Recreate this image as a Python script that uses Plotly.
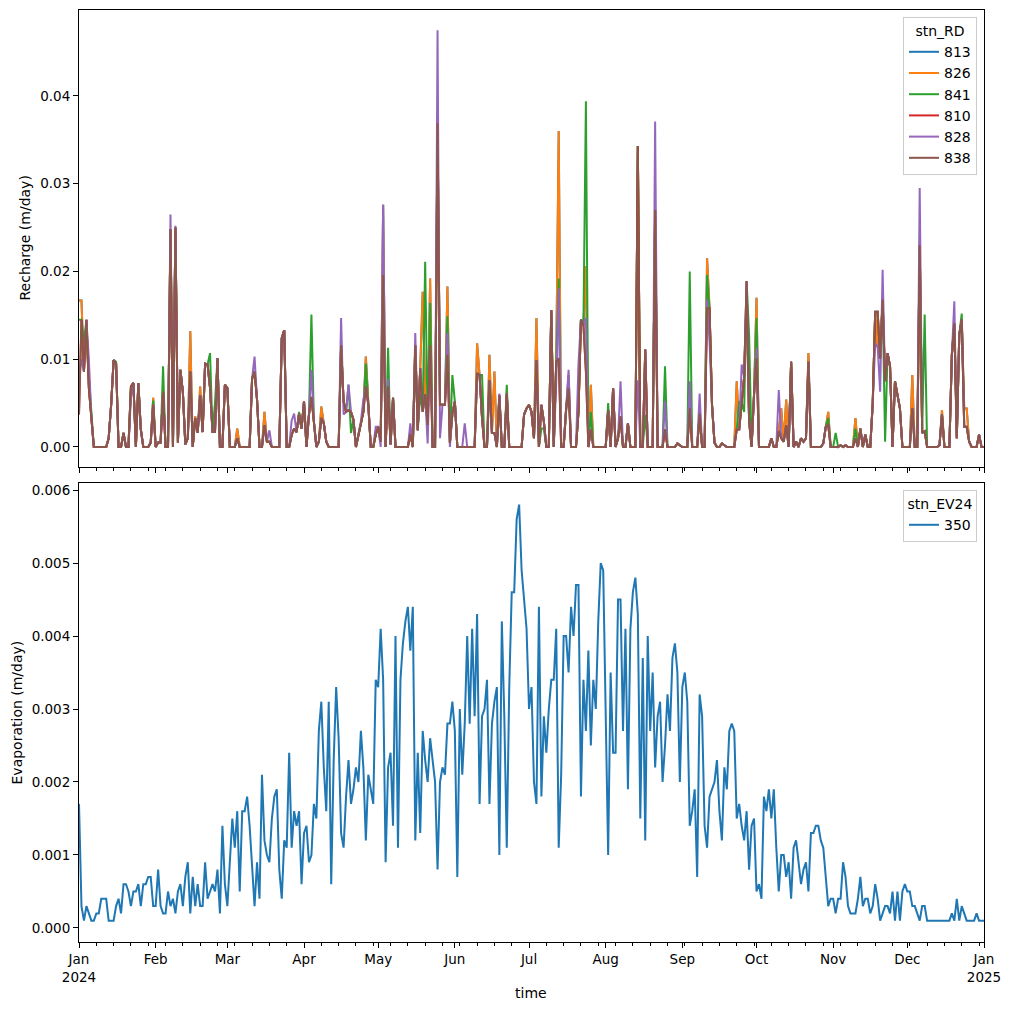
import pandas as pd
import plotly.graph_objects as go

# ---------------- data ----------------
dates = pd.date_range("2024-01-01", "2025-01-01", freq="D")  # 367 daily points

# Recharge for station 838 (mm/day)
recharge_838_mm = [
    3.7, 14.5, 8.6, 14.5, 6.7, 3.3, 0, 0, 0, 0,
    0, 0, 1.0, 4.8, 9.9, 9.5, 0, 0, 1.6, 0,
    0, 6.9, 7.3, 0, 7.3, 2.0, 0, 0, 0, 0.5,
    4.8, 0, 0.5, 0.5, 6.3, 0, 0, 24.8, 0, 25.0,
    0.5, 8.8, 6.3, 0.3, 1.0, 8.6, 0, 3.3, 1.6, 5.9,
    1.7, 9.5, 9.4, 6.7, 1.7, 1.7, 10.1, 0, 0, 7.1,
    6.7, 0, 0, 0, 1.0, 0, 0, 0, 0, 0,
    7.8, 8.6, 5.4, 0, 0, 2.5, 0.6, 0.6, 0, 0,
    0, 0, 12.4, 13.3, 0, 0, 1.4, 2.1, 1.7, 3.8,
    2.1, 5.2, 0, 3.7, 5.7, 2.9, 0, 0.6, 3.3, 2.7,
    0.6, 0, 0, 0, 0, 0, 11.6, 5.2, 4.0, 4.2,
    4.0, 3.1, 0, 1.4, 2.9, 4.0, 6.9, 4.8, 0, 0,
    1.4, 2.3, 0.6, 19.6, 0, 6.9, 0.3, 5.6, 0, 0,
    0, 0, 0, 0, 1.5, 0, 11.6, 1.9, 9.0, 4.0,
    6.0, 2.5, 11.6, 0, 0, 36.9, 4.8, 4.8, 4.8, 10.5,
    0.5, 3.8, 5.2, 0, 0, 0, 0, 0, 0, 0,
    0, 8.4, 8.2, 3.3, 0, 0, 7.6, 1.6, 1.6, 0,
    5.9, 0, 0, 6.1, 0, 0, 0, 0, 0, 0,
    3.7, 4.4, 4.8, 4.0, 1.0, 9.9, 0, 4.8, 2.9, 0,
    0, 15.6, 0, 9.7, 10.1, 0, 0, 4.4, 6.7, 0,
    0, 0, 4.0, 14.5, 13.9, 8.6, 0, 2.0, 0, 0,
    0, 0, 0, 0, 4.2, 0, 6.7, 0, 1.0, 3.5,
    0, 0, 2.7, 0, 0, 0, 34.3, 0, 0, 11.1,
    0, 0, 0, 27.0, 0, 0, 0, 2.0, 0, 0,
    0, 0, 0.4, 0.2, 0, 0, 0, 4.4, 0, 0,
    0, 3.8, 0, 0, 15.8, 15.8, 4.8, 0.5, 0, 0,
    0.4, 0.2, 0, 0, 0, 0, 2.0, 2.0, 5.0, 8.0,
    18.9, 3.0, 0, 6.0, 10.1, 0, 0, 0, 0, 0,
    1.0, 0, 0, 1.8, 1.0, 0.6, 2.5, 0, 9.7, 0,
    0.6, 0, 1.0, 0.6, 1.0, 9.7, 0, 0, 0, 0,
    0, 0.4, 2.3, 2.5, 0, 0, 0, 0, 0.2, 0,
    0.2, 0, 0, 0, 1.0, 0, 2.1, 0, 1.4, 0,
    0, 5.0, 15.4, 15.4, 10.1, 16.8, 7.5, 10.7, 9.2, 0,
    7.5, 6.1, 4.4, 0, 0, 0, 0, 4.4, 0, 0,
    23.0, 1.6, 1.8, 0, 0, 0, 0, 0, 0.2, 3.7,
    0, 0, 0, 10.5, 14.1, 1.0, 12.8, 14.5, 2.3, 2.3,
    0.6, 0, 0, 0, 1.4, 0, 0,
]

# Days (index from 2024-01-01) where the other stations differ from 838 (mm/day)
diff_826_mm = {0: 16.7, 1: 16.7, 3: 13.9, 21: 6.7, 22: 7.3, 30: 5.6, 45: 13.2, 47: 3.5,
               49: 6.9, 59: 7.1, 64: 2.1, 75: 4.0, 98: 4.6, 116: 10.3, 123: 27.6,
               139: 17.7, 142: 19.2, 149: 18.3, 161: 11.8, 166: 10.5, 168: 8.6,
               185: 14.7, 194: 36.0, 198: 8.2, 205: 20.6, 207: 7.1, 254: 21.5,
               266: 7.5, 270: 17.0, 274: 17.0, 284: 4.4, 286: 5.4, 295: 10.7,
               303: 4.0, 314: 3.3, 323: 11.4, 337: 8.2, 349: 4.2, 358: 4.4, 359: 4.4}
diff_841_mm = {0: 14.5, 1: 14.5, 2: 12.0, 4: 8.0, 14: 9.9, 15: 9.7, 30: 5.3, 34: 9.2,
               53: 10.7, 55: 5.0, 89: 4.0, 94: 15.1, 109: 7.1, 110: 1.6, 116: 9.5,
               125: 11.3, 138: 6.0, 140: 21.1, 142: 16.4, 149: 14.9, 151: 8.2,
               163: 8.2, 173: 7.1, 187: 2.1, 188: 2.1, 194: 19.2, 205: 39.4, 207: 4.0,
               214: 5.0, 229: 3.7, 237: 9.2, 247: 20.0, 254: 19.6, 255: 15.5,
               267: 5.2, 269: 4.0, 271: 12.8, 274: 14.7, 303: 3.3, 306: 1.6,
               314: 2.1, 326: 0.6, 342: 15.1, 357: 15.2}
diff_828_mm = {0: 8.0, 1: 10.0, 4: 9.9, 21: 5.6, 37: 26.5, 39: 25.2, 71: 10.3, 77: 1.9,
               86: 3.0, 87: 3.8, 94: 8.8, 106: 14.7, 107: 3.7, 109: 7.1, 115: 5.4,
               120: 2.3, 122: 0.0, 123: 27.6, 125: 7.8, 134: 2.7, 136: 13.0, 141: 0.4,
               145: 47.5, 146: 1.0, 149: 13.0, 150: 0.0, 156: 2.7, 161: 8.2, 170: 6.1,
               193: 7.4, 194: 18.1, 198: 8.8, 202: 9.5, 205: 14.7, 219: 7.5, 226: 7.6,
               233: 37.1, 237: 5.2, 247: 7.5, 251: 6.1, 254: 16.8, 255: 12.0, 268: 9.4,
               274: 11.3, 283: 6.5, 322: 11.8, 323: 11.4, 324: 6.3, 325: 20.2,
               340: 29.5, 354: 16.6}

recharge_826_mm = [diff_826_mm.get(i, v) for i, v in enumerate(recharge_838_mm)]
recharge_813_mm = list(recharge_826_mm)
recharge_841_mm = [diff_841_mm.get(i, v) for i, v in enumerate(recharge_838_mm)]
recharge_810_mm = list(recharge_838_mm)
recharge_828_mm = [diff_828_mm.get(i, v) for i, v in enumerate(recharge_838_mm)]

# Evaporation station 350 (mm/day)
evap_350_mm = [
    1.7, 0.3, 0.1, 0.3, 0.2, 0.1, 0.1, 0.2, 0.2, 0.4,
    0.4, 0.4, 0.1, 0.1, 0.1, 0.3, 0.4, 0.2, 0.6, 0.6,
    0.5, 0.3, 0.5, 0.5, 0.6, 0.3, 0.6, 0.6, 0.7, 0.7,
    0.3, 0.3, 0.8, 0.3, 0.2, 0.2, 0.5, 0.3, 0.4, 0.2,
    0.5, 0.6, 0.3, 0.7, 0.9, 0.2, 0.7, 0.3, 0.6, 0.3,
    0.3, 0.9, 0.4, 0.5, 0.6, 0.5, 0.8, 0.2, 1.4, 0.6,
    0.3, 0.9, 1.5, 1.1, 1.6, 0.5, 1.6, 1.6, 1.8, 1.4,
    0.9, 0.3, 0.9, 0.4, 2.1, 1.2, 1.0, 0.9, 1.5, 1.8,
    1.9, 0.8, 0.4, 1.2, 1.1, 2.4, 1.1, 1.6, 1.4, 1.6,
    0.6, 1.3, 1.4, 0.9, 1.0, 1.7, 1.5, 2.7, 3.1, 2.2,
    1.6, 3.1, 0.6, 2.3, 3.3, 2.6, 1.3, 1.1, 1.8, 2.3,
    1.7, 1.9, 2.2, 2.0, 2.7, 2.2, 1.2, 2.1, 1.9, 1.7,
    3.4, 3.3, 4.1, 3.4, 0.9, 2.2, 2.4, 1.4, 4.0, 1.1,
    3.4, 3.9, 4.2, 4.4, 3.8, 4.4, 1.2, 2.4, 1.3, 2.7,
    2.3, 2.0, 2.6, 2.3, 2.0, 0.8, 2.0, 2.2, 2.1, 2.8,
    2.8, 3.1, 2.7, 0.7, 3.0, 2.1, 2.8, 4.0, 2.8, 4.1,
    2.9, 4.3, 1.7, 2.9, 3.0, 3.4, 1.7, 2.8, 3.1, 3.3,
    1.0, 4.2, 2.9, 1.1, 3.3, 4.6, 4.6, 5.6, 5.8, 4.9,
    4.5, 4.1, 3.0, 3.3, 2.0, 1.7, 4.4, 1.8, 2.9, 2.4,
    3.0, 3.4, 3.4, 4.1, 1.1, 2.1, 4.0, 4.0, 3.5, 4.4,
    4.0, 4.7, 4.7, 1.8, 3.4, 2.7, 3.8, 2.5, 3.4, 3.0,
    4.2, 5.0, 4.9, 3.2, 1.0, 3.5, 2.4, 2.4, 4.5, 4.5,
    2.7, 4.1, 1.9, 4.1, 4.6, 4.8, 4.3, 1.5, 3.7, 1.2,
    4.0, 2.7, 3.5, 2.2, 2.9, 3.1, 2.0, 2.5, 3.2, 2.7,
    3.7, 3.9, 3.5, 2.0, 3.3, 3.5, 3.1, 1.4, 1.6, 1.9,
    0.7, 3.2, 2.9, 1.4, 1.1, 1.8, 1.9, 2.0, 2.3, 1.6,
    1.2, 2.2, 1.9, 2.7, 2.8, 2.7, 1.5, 1.7, 1.4, 1.2,
    1.6, 0.8, 1.4, 1.5, 0.5, 0.6, 0.4, 1.8, 1.6, 1.9,
    1.5, 1.9, 1.1, 0.5, 1.0, 1.0, 0.7, 0.9, 0.4, 1.1,
    1.2, 0.9, 0.6, 0.8, 0.9, 0.5, 1.3, 1.3, 1.4, 1.4,
    1.2, 1.1, 0.7, 0.3, 0.4, 0.4, 0.2, 0.4, 0.4, 0.9,
    0.7, 0.3, 0.2, 0.2, 0.2, 0.4, 0.7, 0.3, 0.4, 0.4,
    0.2, 0.3, 0.6, 0.4, 0.1, 0.2, 0.3, 0.3, 0.2, 0.5,
    0.1, 0.5, 0.1, 0.5, 0.6, 0.5, 0.5, 0.3, 0.3, 0.2,
    0.1, 0.3, 0.3, 0.1, 0.1, 0.1, 0.1, 0.1, 0.1, 0.1,
    0.1, 0.1, 0.1, 0.2, 0.1, 0.4, 0.1, 0.3, 0.2, 0.1,
    0.1, 0.1, 0.1, 0.2, 0.1, 0.1, 0.1,
]

stations_rd = ["813", "826", "841", "810", "828", "838"]
recharge_mm = [recharge_813_mm, recharge_826_mm, recharge_841_mm,
               recharge_810_mm, recharge_828_mm, recharge_838_mm]
colors = ["#1f77b4", "#ff7f0e", "#2ca02c", "#d62728", "#9467bd", "#8c564b"]

month_ticks = pd.date_range("2024-01-01", "2025-01-01", freq="MS")
month_labels = ["Jan<br>2024", "Feb", "Mar", "Apr", "May", "Jun", "Jul", "Aug",
                "Sep", "Oct", "Nov", "Dec", "Jan<br>2025"]
week_ticks = pd.date_range("2024-01-01", "2025-01-01", freq="7D")

# ---------------- figure ----------------
W = H = 1011
fig = go.Figure()
for name, vals, col in zip(stations_rd, recharge_mm, colors):
    fig.add_trace(go.Scatter(x=dates, y=[v / 1000 for v in vals], mode="lines",
                             name=name, line=dict(color=col, width=2),
                             xaxis="x", yaxis="y", legend="legend"))
fig.add_trace(go.Scatter(x=dates, y=[v / 1000 for v in evap_350_mm], mode="lines",
                         name="350", line=dict(color="#1f77b4", width=2),
                         xaxis="x2", yaxis="y2", legend="legend2"))

font = dict(family="DejaVu Sans", size=14, color="black")
tfont = dict(family="DejaVu Sans", size=13.5, color="black")
xl, xr = 79 / W, 984 / W

common_x = dict(domain=[xl, xr], range=["2024-01-01", "2025-01-01"], type="date",
                tickmode="array", tickvals=month_ticks, ticks="outside", ticklen=5,
                tickcolor="black", showline=True, linecolor="black", linewidth=1,
                mirror=True, showgrid=False, zeroline=False, tickfont=tfont,
                automargin=False,
                minor=dict(tickmode="array", tickvals=week_ticks, ticks="outside",
                           ticklen=3, tickcolor="black", showgrid=False))
common_y = dict(ticks="outside", ticklen=5, tickcolor="black", showline=True,
                linecolor="black", linewidth=1, mirror=True, showgrid=False,
                zeroline=False, tickfont=tfont, automargin=False)

fig.update_layout(
    width=W, height=H, margin=dict(l=0, r=0, t=0, b=0, autoexpand=False),
    paper_bgcolor="white", plot_bgcolor="white", font=font,
    xaxis=dict(**common_x, anchor="y", matches="x2", showticklabels=False),
    yaxis=dict(**common_y, domain=[1 - 467 / H, 1 - 10 / H], anchor="x",
               range=[-0.00228, 0.0498], tick0=0, dtick=0.01, tickformat=".2f"),
    xaxis2=dict(**common_x, anchor="y2", ticktext=month_labels),
    yaxis2=dict(**common_y, domain=[1 - 942 / H, 1 - 483 / H], anchor="x2",
                range=[-0.000192, 0.006096], tick0=0, dtick=0.001, tickformat=".3f"),
    legend=dict(title=dict(text="stn_RD", side="top center", font=font),
                x=977 / W, y=1 - 17 / H, xanchor="right", yanchor="top",
                bgcolor="rgba(255,255,255,0.8)", bordercolor="#cccccc", borderwidth=1,
                font=font, tracegroupgap=0),
    legend2=dict(title=dict(text="stn_EV24", side="top center", font=font),
                 x=977 / W, y=1 - 490 / H, xanchor="right", yanchor="top",
                 bgcolor="rgba(255,255,255,0.8)", bordercolor="#cccccc", borderwidth=1,
                 font=font),
    showlegend=True,
    annotations=[
        dict(text="Recharge (m/day)", x=25 / W, y=1 - 238.5 / H, xref="paper", yref="paper",
             textangle=-90, showarrow=False, font=font, xanchor="center", yanchor="middle"),
        dict(text="Evaporation (m/day)", x=16 / W, y=1 - 712.5 / H, xref="paper", yref="paper",
             textangle=-90, showarrow=False, font=font, xanchor="center", yanchor="middle"),
        dict(text="time", x=531 / W, y=1 - 993 / H, xref="paper", yref="paper",
             showarrow=False, font=font, xanchor="center", yanchor="middle"),
    ],
)

fig.write_html("out.html")
